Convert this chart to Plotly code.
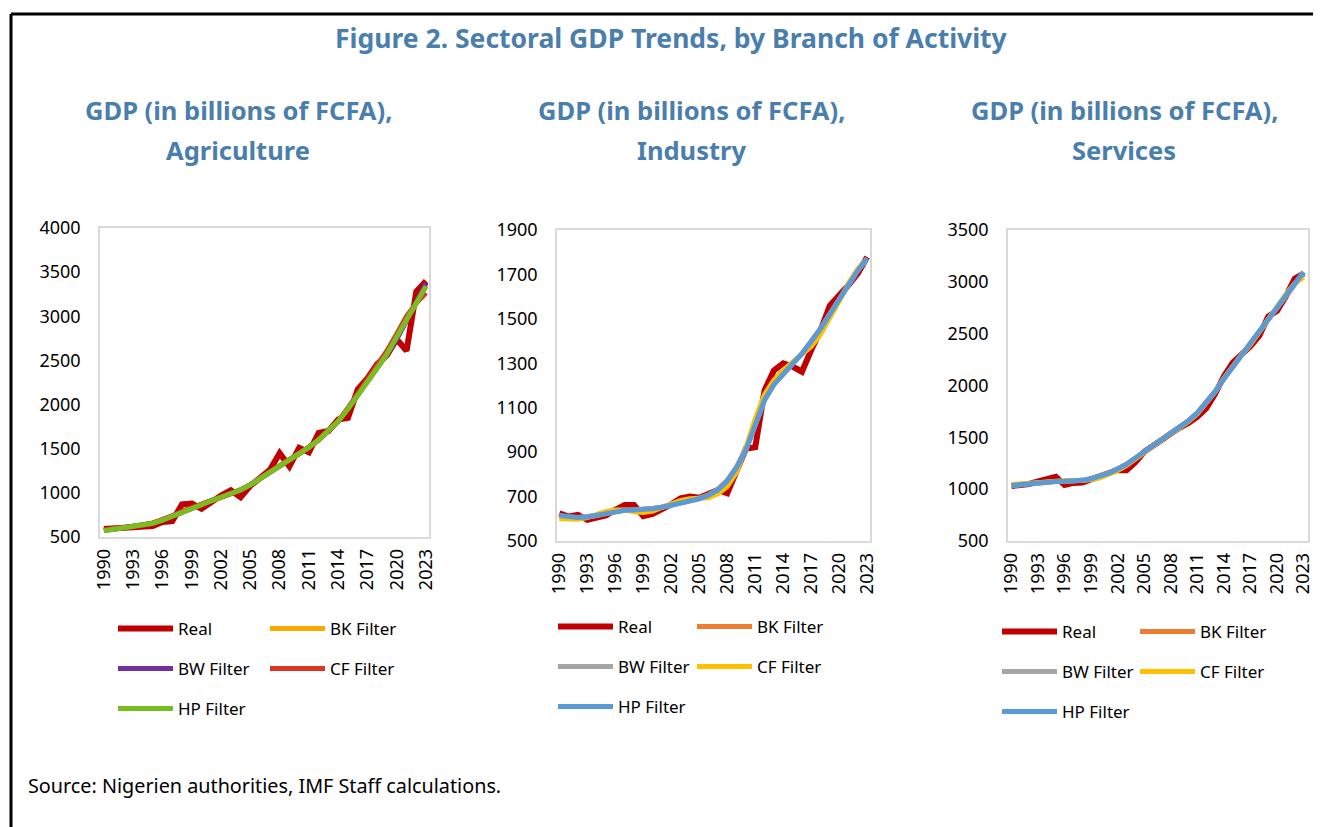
"""Figure 2 — sectoral GDP trends (Real vs BK/BW/CF/HP filters), three panels."""
import plotly.graph_objects as go
from plotly.subplots import make_subplots

# The page body keeps its default 8px margin, so the figure starts 8px in;
# every layout position below is given in page pixels, then shifted.
PAGE_W, PAGE_H = 1321, 827
BODY = 8
W, H = PAGE_W, PAGE_H - BODY

YEARS = [1990, 1991, 1992, 1993, 1994, 1995, 1996, 1997, 1998, 1999,
         2000, 2001, 2002, 2003, 2004, 2005, 2006, 2007, 2008, 2009,
         2010, 2011, 2012, 2013, 2014, 2015, 2016, 2017, 2018, 2019,
         2020, 2021, 2022, 2023]
TICK_YEARS = [1990, 1993, 1996, 1999, 2002, 2005, 2008, 2011, 2014, 2017, 2020, 2023]

# Agriculture
AGR_REAL = [590, 595, 605, 612, 615, 625, 670, 680, 870, 880, 820, 900, 970, 1030, 950, 1080, 1180,
            1260, 1450, 1300, 1510, 1460, 1680, 1700, 1830, 1850, 2170, 2300, 2460, 2560, 2740, 2610,
            3280, 3400]
AGR_BK = [575, 590, 603, 617, 633, 657, 693, 738, 788, 832, 872, 912, 952, 990, 1035, 1093, 1162,
          1232, 1302, 1372, 1442, 1518, 1604, 1703, 1812, 1955, 2110, 2270, 2425, 2580, 2760, 2965,
          3155, 3345]
AGR_BW = [572, 587, 601, 616, 632, 656, 691, 736, 786, 831, 871, 911, 951, 989, 1033, 1091, 1161,
          1231, 1301, 1371, 1441, 1516, 1601, 1701, 1811, 1952, 2103, 2263, 2418, 2572, 2740, 2950,
          3160, 3375]
AGR_CF = [580, 592, 604, 618, 634, 658, 694, 740, 790, 835, 875, 912, 950, 985, 1030, 1090, 1165,
          1240, 1310, 1375, 1440, 1512, 1598, 1700, 1815, 1960, 2120, 2290, 2450, 2610, 2800, 3000,
          3150, 3265]
AGR_HP = [570, 585, 600, 615, 632, 655, 690, 735, 785, 830, 870, 910, 950, 988, 1032, 1090, 1160,
          1230, 1300, 1370, 1440, 1515, 1600, 1700, 1810, 1950, 2100, 2260, 2415, 2575, 2755, 2960,
          3150, 3340]

# Industry
IND_REAL = [625, 610, 618, 595, 605, 615, 640, 662, 662, 612, 622, 640, 665, 692, 700, 695, 715,
            730, 715, 810, 915, 922, 1178, 1268, 1300, 1285, 1262, 1360, 1448, 1560, 1605, 1652,
            1705, 1778]
IND_BK = [612, 606, 605, 608, 616, 626, 634, 639, 641, 642, 646, 653, 663, 672, 681, 692, 708,
          733, 773, 833, 913, 1027, 1136, 1206, 1256, 1299, 1343, 1396, 1456, 1523, 1591, 1658,
          1719, 1772]
IND_BW = [614, 607, 606, 608, 615, 625, 633, 638, 640, 641, 645, 652, 662, 671, 680, 691, 707,
          731, 771, 831, 911, 1026, 1135, 1205, 1255, 1298, 1342, 1395, 1455, 1522, 1590, 1657,
          1718, 1772]
IND_CF = [600, 597, 598, 605, 620, 633, 640, 640, 632, 628, 635, 650, 670, 683, 690, 690, 695,
          712, 745, 810, 920, 1050, 1160, 1225, 1270, 1305, 1338, 1375, 1430, 1500, 1580, 1660,
          1725, 1770]
IND_HP = [615, 608, 606, 608, 615, 625, 633, 638, 640, 641, 645, 652, 662, 671, 680, 690, 706,
          730, 770, 830, 910, 1025, 1135, 1205, 1255, 1298, 1342, 1395, 1455, 1522, 1590, 1657,
          1718, 1772]

# Services
SRV_REAL = [1030, 1035, 1050, 1075, 1095, 1120, 1040, 1060, 1065, 1095, 1130, 1165, 1185, 1183,
            1260, 1360, 1420, 1480, 1540, 1595, 1640, 1700, 1780, 1920, 2090, 2220, 2300, 2380,
            2480, 2665, 2720, 2860, 3030, 3080]
SRV_BK = [1037, 1046, 1056, 1064, 1071, 1076, 1078, 1081, 1086, 1101, 1126, 1156, 1196, 1241,
          1300, 1360, 1416, 1476, 1536, 1596, 1661, 1736, 1831, 1941, 2066, 2181, 2286, 2391,
          2511, 2631, 2746, 2861, 2981, 3090]
SRV_BW = [1036, 1045, 1055, 1063, 1070, 1075, 1077, 1080, 1085, 1100, 1125, 1155, 1195, 1240,
          1300, 1360, 1415, 1475, 1535, 1595, 1660, 1735, 1830, 1940, 2065, 2180, 2285, 2390,
          2510, 2630, 2745, 2860, 2980, 3092]
SRV_CF = [1045, 1052, 1060, 1066, 1072, 1077, 1080, 1080, 1082, 1090, 1110, 1140, 1180, 1230,
          1295, 1360, 1420, 1480, 1535, 1590, 1652, 1728, 1825, 1940, 2070, 2190, 2295, 2395,
          2510, 2635, 2760, 2880, 2985, 3045]
SRV_HP = [1035, 1045, 1055, 1063, 1070, 1075, 1077, 1080, 1085, 1100, 1125, 1155, 1195, 1240,
          1300, 1360, 1415, 1475, 1535, 1595, 1660, 1735, 1830, 1940, 2065, 2180, 2285, 2390,
          2510, 2630, 2745, 2860, 2980, 3095]

SERIES_NAMES = ["Real", "BK Filter", "BW Filter", "CF Filter", "HP Filter"]
AGR_COLORS = ["#C00000", "#F4AA00", "#7030A0", "#DE3423", "#78BE21"]
OFFICE_COLORS = ["#C00000", "#ED7D31", "#A5A5A5", "#FFC000", "#5B9BD5"]

TITLE_BLUE = "#4A7EAD"
FONT = "Noto Sans"


def px_x(v):
    return (v - BODY) / W


def px_y(v):
    return 1 - (v - BODY) / H


# plot box px (l, r, t, b); legend line-start x px, column step px, legend row y px
panels = [
    dict(series=[AGR_REAL, AGR_BK, AGR_BW, AGR_CF, AGR_HP], colors=AGR_COLORS,
         sub="Agriculture", cx=238, box=(100, 429, 228, 537), xr=[1989.6, 2023.3],
         yr=[500, 4000], dtick=500, lx=123, step=152, rows=(629, 669, 709)),
    dict(series=[IND_REAL, IND_BK, IND_BW, IND_CF, IND_HP], colors=OFFICE_COLORS,
         sub="Industry", cx=692, box=(557, 870, 230, 541), xr=[1989.75, 2023.3],
         yr=[500, 1900], dtick=200, lx=563, step=139, rows=(627, 667, 707)),
    dict(series=[SRV_REAL, SRV_BK, SRV_BW, SRV_CF, SRV_HP], colors=OFFICE_COLORS,
         sub="Services", cx=1124, box=(1008, 1308, 230, 541), xr=[1989.6, 2023.5],
         yr=[500, 3500], dtick=500, lx=1007, step=138, rows=(632, 672, 712)),
]

fig = make_subplots(rows=1, cols=3)

legend_layout = {}
annotations = []
for p_idx, p in enumerate(panels):
    col = p_idx + 1
    # legend rows: (Real, BK) / (BW, CF) / (HP)
    row_of = [0, 0, 1, 1, 2]
    for s_idx, (name, vals, color) in enumerate(zip(SERIES_NAMES, p["series"], p["colors"])):
        leg_num = p_idx * 3 + row_of[s_idx] + 1
        leg_id = "legend" if leg_num == 1 else f"legend{leg_num}"
        fig.add_trace(
            go.Scatter(
                x=YEARS, y=vals, mode="lines", name=name,
                line=dict(color=color, width=6 if s_idx == 0 else 5),
                legend=leg_id,
                hovertemplate=f"<b>{name}</b><br>%{{x}}<br>%{{y:.0f}}<extra></extra>",
            ),
            row=1, col=col,
        )
    for r, ry in enumerate(p["rows"]):
        leg_num = p_idx * 3 + r + 1
        leg_id = "legend" if leg_num == 1 else f"legend{leg_num}"
        legend_layout[leg_id] = dict(
            orientation="h", x=px_x(p["lx"] - 10), y=px_y(ry),
            xanchor="left", yanchor="middle",
            entrywidth=p["step"] - 70, entrywidthmode="pixels",
            itemwidth=55, bgcolor="rgba(0,0,0,0)",
            font=dict(family=FONT, size=17, color="#000000"),
        )

    l, r_, t, b = p["box"]
    fig.update_xaxes(
        domain=[px_x(l), px_x(r_)], range=p["xr"], tickmode="array",
        tickvals=TICK_YEARS, tickangle=-90, showgrid=False, zeroline=False,
        showline=True, mirror=True, linecolor="#D9D9D9", linewidth=1.5,
        ticks="", ticklabelstandoff=3, automargin=False,
        tickfont=dict(family=FONT, size=18, color="#000000"),
        row=1, col=col,
    )
    fig.update_yaxes(
        domain=[px_y(b), px_y(t)], range=p["yr"], tick0=p["yr"][0], dtick=p["dtick"],
        showgrid=False, zeroline=False,
        showline=True, mirror=True, linecolor="#D9D9D9", linewidth=1.5,
        ticks="", ticklabelstandoff=14, automargin=False,
        tickfont=dict(family=FONT, size=18, color="#000000"),
        row=1, col=col,
    )
    for text, ty in (("GDP (in billions of FCFA),", 110), (p["sub"], 150)):
        annotations.append(dict(
            text=f"<b>{text}</b>", x=px_x(p["cx"]), y=px_y(ty), xref="paper", yref="paper",
            xanchor="center", yanchor="middle", showarrow=False,
            font=dict(family=FONT, size=25.5, color=TITLE_BLUE),
        ))

annotations.append(dict(
    text="<b>Figure 2. Sectoral GDP Trends, by Branch of Activity</b>",
    x=px_x(671), y=px_y(38), xref="paper", yref="paper", xanchor="center", yanchor="middle",
    showarrow=False, font=dict(family=FONT, size=26.5, color=TITLE_BLUE),
))
annotations.append(dict(
    text="Source: Nigerien authorities, IMF Staff calculations.",
    x=px_x(26), y=px_y(785), xref="paper", yref="paper", xanchor="left", yanchor="middle",
    showarrow=False, font=dict(family=FONT, size=19.8, color="#000000"),
))

# frame: left and top rules only
shapes = [
    dict(type="line", xref="paper", yref="paper", x0=px_x(11), x1=px_x(11), y0=0, y1=px_y(14),
         line=dict(color="#000000", width=3)),
    dict(type="line", xref="paper", yref="paper", x0=px_x(11), x1=1, y0=px_y(14), y1=px_y(14),
         line=dict(color="#000000", width=3)),
]

fig.update_layout(
    width=W, height=H,
    margin=dict(l=0, r=0, t=0, b=0, autoexpand=False),
    paper_bgcolor="#FFFFFF", plot_bgcolor="#FFFFFF",
    font=dict(family=FONT, size=18, color="#000000"),
    showlegend=True,
    annotations=annotations,
    shapes=shapes,
    **legend_layout,
)

fig.write_html("out.html")
